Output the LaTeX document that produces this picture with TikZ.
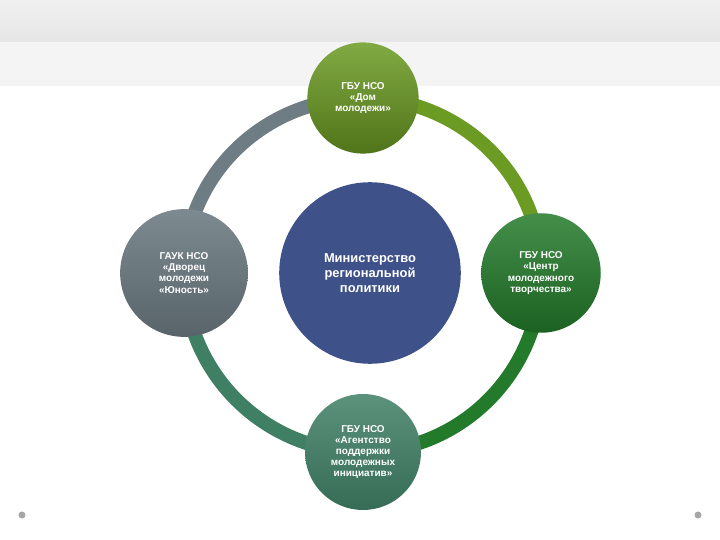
\documentclass[tikz,border=0pt]{standalone}
\usepackage{fontspec}
\setmainfont{Liberation Sans}
\usetikzlibrary{shadings}

\definecolor{bandgray}{HTML}{E6E6E6}
\definecolor{slate}{HTML}{6E7D84}
\definecolor{leaf}{HTML}{6B9B22}
\definecolor{teal}{HTML}{3F7F64}
\definecolor{forest}{HTML}{237A2A}
\definecolor{navy}{HTML}{3F5189}

\begin{document}
\begin{tikzpicture}[x=0.03cm,y=-0.03cm]
\tikzset{
  org/.style={circle,minimum size=#1,inner sep=0pt,text=white,align=center,
    font=\fontsize{8.5}{9.5}\selectfont\bfseries},
  ring/.style={line width=12,draw=#1},
}
\useasboundingbox (0,0) rectangle (720,540);
\shade[top color=bandgray!60,bottom color=bandgray] (0,0) rectangle (720,42);
\fill[bandgray!45] (0,42) rectangle (720,86);
\fill[gray!70] (22,515) circle (3.5);
\fill[gray!70] (698,515) circle (3.5);

% ring positions
\coordinate (dom) at (363,98);
\coordinate (yun) at (184,273);
\coordinate (cent) at (541,273);
\coordinate (ag) at (363,452);

\draw[ring=slate] (dom) to[out=180,in=90] (yun);
\draw[ring=leaf] (dom) to[out=0,in=90] (cent);
\draw[ring=teal] (yun) to[out=-90,in=180] (ag);
\draw[ring=forest] (cent) to[out=-90,in=0] (ag);

\node[org=95pt,shading=axis,top color=leaf!85!white,bottom color=leaf!75!black] (domN) at (dom)
  {ГБУ НСО\\«Дом\\молодежи»};
\node[org=109pt,shading=axis,top color=slate!90!white,bottom color=slate!80!black] (yunN) at (yun)
  {ГАУК НСО\\«Дворец\\молодежи\\«Юность»};
\node[org=102pt,shading=axis,top color=forest!85!white,bottom color=forest!80!black] (centN) at (cent)
  {ГБУ НСО\\«Центр\\молодежного\\творчества»};
\node[org=99pt,shading=axis,top color=teal!85!white,bottom color=teal!85!black] (agN) at (ag)
  {ГБУ НСО\\«Агентство\\поддержки\\молодежных\\инициатив»};
\node[org=155pt,fill=navy,font=\fontsize{11}{12.5}\selectfont\bfseries] (min) at (370,273)
  {Министерство\\региональной\\политики};
\end{tikzpicture}
\end{document}
